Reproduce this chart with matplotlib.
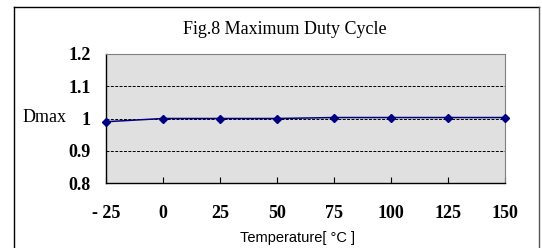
import numpy as np
import matplotlib
matplotlib.use("Agg")
import matplotlib.pyplot as plt
from matplotlib.lines import Line2D

# data
temps = ["- 25", "0", "25", "50", "75", "100", "125", "150"]
dmax = [0.99, 1.0, 1.0, 1.0, 1.003, 1.003, 1.003, 1.003]
y_ticks = [0.8, 0.9, 1.0, 1.1, 1.2]
y_labels = ["0.8", "0.9", "1", "1.1", "1.2"]

W, H = 542, 248
fig = plt.figure(figsize=(W / 100, H / 100), dpi=100)
fig.patch.set_facecolor("white")

# outer chart frame (bottom edge is outside the picture)
x0, x1, yt = 14 / W, 539 / W, 1 - 7 / H
fig.add_artist(Line2D([x0, x0], [0, yt], color="black", lw=1.0, transform=fig.transFigure))
fig.add_artist(Line2D([x0, x1], [yt, yt], color="black", lw=1.0, transform=fig.transFigure))
fig.add_artist(Line2D([x1, x1], [0, yt], color="#555555", lw=1.0, transform=fig.transFigure))

ax = fig.add_axes([106 / W, 1 - 183 / H, (505 - 106) / W, (183 - 54) / H])
ax.set_facecolor("#E0E0E0")

x = np.arange(len(temps))
ax.plot(x, dmax, color="#000080", lw=1.1, marker="D", ms=4.5,
        markerfacecolor="#000080", markeredgecolor="#000080", zorder=3, clip_on=False)

ax.set_xlim(0, len(temps) - 1)
ax.set_ylim(0.8, 1.2)
ax.set_xticks(x)
ax.set_xticklabels(temps, fontfamily="Liberation Serif", fontweight="bold", fontsize=13)
ax.set_yticks(y_ticks)
ax.set_yticklabels(y_labels, fontfamily="Liberation Serif", fontweight="bold", fontsize=13)

ax.tick_params(axis="x", direction="in", length=4, width=0.8, pad=16)
ax.tick_params(axis="y", length=0, pad=11)

for v in [0.9, 1.0, 1.1]:
    ax.axhline(v, color="black", lw=0.7, ls=(0, (3, 1.5)), zorder=1)

ax.spines["left"].set_color("black")
ax.spines["bottom"].set_color("black")
ax.spines["left"].set_linewidth(1.0)
ax.spines["bottom"].set_linewidth(1.0)
ax.spines["top"].set_color("#808080")
ax.spines["right"].set_color("#808080")
ax.spines["top"].set_linewidth(0.8)
ax.spines["right"].set_linewidth(0.8)

fig.text(285 / W, 1 - 29 / H, "Fig.8 Maximum Duty Cycle", ha="center", va="center",
         fontfamily="Liberation Serif", fontsize=13)
fig.text(45 / W, 1 - 117 / H, "Dmax", ha="center", va="center",
         fontfamily="Liberation Serif", fontsize=13)
fig.text(297 / W, 1 - 238 / H, "Temperature[ °C ]", ha="center", va="center",
         fontfamily="Liberation Sans", fontsize=10.5)

fig.savefig("out.png", dpi=100)
